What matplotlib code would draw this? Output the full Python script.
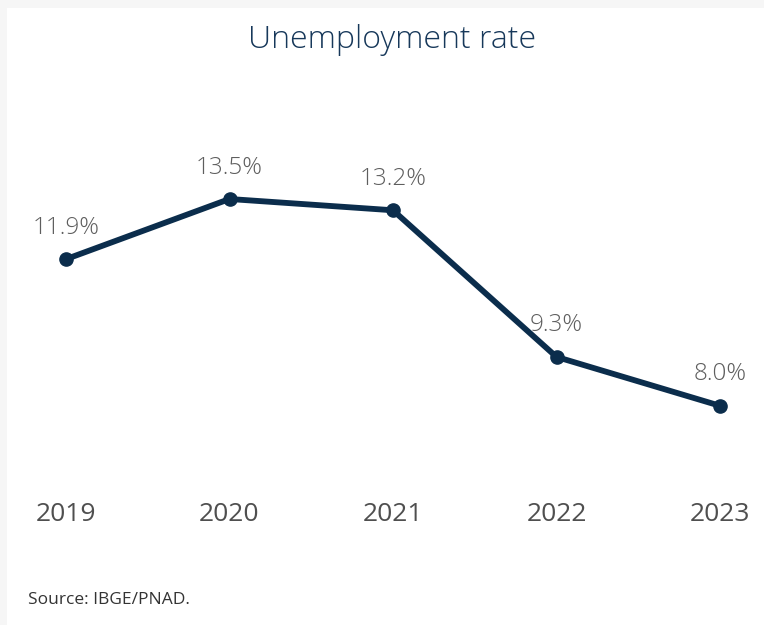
import matplotlib
matplotlib.use("Agg")
import matplotlib.pyplot as plt
from matplotlib.patches import Rectangle

# dados
anos = ["2019", "2020", "2021", "2022", "2023"]
taxa = [11.9, 13.5, 13.2, 9.3, 8.0]

cor_linha = "#0b2d4c"
cor_texto = "#5e5e5e"

W, H = 764, 625
fig = plt.figure(figsize=(W / 100, H / 100), dpi=100)
fig.patch.set_facecolor("white")

# moldura clara em volta do cartao
fig.patches.append(Rectangle((0, 0), 1, 1, transform=fig.transFigure,
                             facecolor="#f6f6f6", edgecolor="none", zorder=-2))
fig.patches.append(Rectangle((7 / W, 0), 1, 1 - 8 / H, transform=fig.transFigure,
                             facecolor="white", edgecolor="none", zorder=-1))

# eixo posicionado em pixels
x0, x1 = 66, 720
y_top, y_bot = 161.4, 481.0
ax = fig.add_axes([x0 / W, 1 - y_bot / H, (x1 - x0) / W, (y_bot - y_top) / H])
ax.set_xlim(0, len(anos) - 1)
ax.set_ylim(6, 14.5)
ax.axis("off")

xs = list(range(len(anos)))
ax.plot(xs, taxa, color=cor_linha, linewidth=4.2, marker="o", markersize=9.5,
        solid_capstyle="round", clip_on=False)

for x, v in zip(xs, taxa):
    ax.annotate(f"{v:.1f}%", (x, v), xytext=(0, 14), textcoords="offset points",
                ha="center", va="bottom", fontsize=17.5, color=cor_texto,
                family="Open Sans", fontweight="light")

for x, ano in zip(xs, anos):
    ax.annotate(ano, (x, 0), xycoords=("data", "axes fraction"), xytext=(0, -24),
                textcoords="offset points", ha="center", va="center",
                fontsize=19, color="#4f4f4f", family="Open Sans")

fig.text(392 / W, 1 - 40 / H, "Unemployment rate", ha="center", va="center",
         fontsize=23, color="#17385a", family="Open Sans", fontweight="light")
fig.text(28 / W, 1 - 600 / H, "Source: IBGE/PNAD.", ha="left", va="center",
         fontsize=12.5, color="#333333", family="Open Sans")

fig.savefig("out.png", dpi=100)
